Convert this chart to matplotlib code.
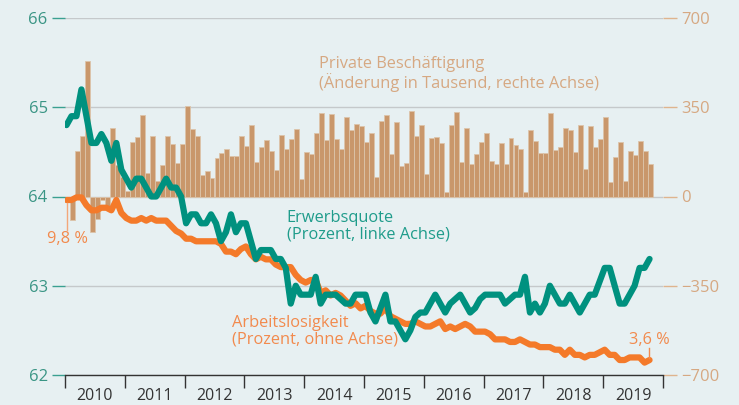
import numpy as np
import matplotlib
matplotlib.use("Agg")
import matplotlib.pyplot as plt

plt.rcParams['font.family'] = ['Open Sans', 'DejaVu Sans']

# Monatswerte Jan 2010 - Okt 2019
beschaeftigung = [
    -10, -92, 180, 236, 533, -138, -88, -15, -50, 270, 123, 76,
    21, 213, 232, 321, 94, 236, 60, 123, 236, 204, 132, 204,
    354, 263, 239, 84, 99, 73, 152, 171, 188, 158, 158, 236,
    197, 279, 136, 193, 223, 180, 103, 240, 188, 226, 266, 67,
    176, 168, 250, 328, 221, 324, 227, 187, 311, 259, 286, 276,
    213, 250, 76, 298, 318, 168, 291, 120, 132, 337, 236, 279,
    89, 230, 233, 209, 16, 279, 333, 134, 269, 129, 168, 214,
    250, 140, 127, 209, 127, 229, 203, 187, 16, 259, 218, 172,
    172, 328, 182, 196, 268, 259, 174, 279, 107, 275, 196, 226,
    311, 55, 155, 214, 62, 178, 164, 218, 180, 129,
]
erwerbsquote = [
    64.8, 64.9, 64.9, 65.2, 64.9, 64.6, 64.6, 64.7, 64.6, 64.4, 64.6, 64.3,
    64.2, 64.1, 64.2, 64.2, 64.1, 64.0, 64.0, 64.1, 64.2, 64.1, 64.1, 64.0,
    63.7, 63.8, 63.8, 63.7, 63.7, 63.8, 63.7, 63.5, 63.6, 63.8, 63.6, 63.7,
    63.7, 63.5, 63.3, 63.4, 63.4, 63.4, 63.3, 63.3, 63.2, 62.8, 63.0, 62.9,
    62.9, 62.9, 63.1, 62.8, 62.9, 62.9, 62.9, 62.85, 62.8, 62.8, 62.9, 62.9,
    62.9, 62.7, 62.6, 62.75, 62.9, 62.6, 62.6, 62.5, 62.4, 62.5, 62.65, 62.7,
    62.7, 62.8, 62.9, 62.8, 62.7, 62.8, 62.85, 62.9, 62.8, 62.7, 62.75, 62.85,
    62.9, 62.9, 62.9, 62.9, 62.8, 62.85, 62.9, 62.9, 63.1, 62.7, 62.8, 62.7,
    62.8, 63.0, 62.9, 62.8, 62.8, 62.9, 62.8, 62.7, 62.8, 62.9, 62.9, 63.05,
    63.2, 63.2, 63.0, 62.8, 62.8, 62.9, 63.0, 63.2, 63.2, 63.3,
]
arbeitslosigkeit = [
    9.8, 9.8, 9.9, 9.9, 9.6, 9.4, 9.4, 9.5, 9.5, 9.4, 9.8, 9.3,
    9.1, 9.0, 9.0, 9.1, 9.0, 9.1, 9.0, 9.0, 9.0, 8.8, 8.6, 8.5,
    8.3, 8.3, 8.2, 8.2, 8.2, 8.2, 8.2, 8.1, 7.8, 7.8, 7.7, 7.9,
    8.0, 7.7, 7.5, 7.6, 7.5, 7.5, 7.3, 7.2, 7.2, 7.2, 6.9, 6.7,
    6.6, 6.7, 6.7, 6.2, 6.3, 6.1, 6.2, 6.1, 5.9, 5.7, 5.8, 5.6,
    5.7, 5.5, 5.4, 5.4, 5.6, 5.3, 5.2, 5.1, 5.0, 5.0, 5.1, 5.0,
    4.9, 4.9, 5.0, 5.1, 4.8, 4.9, 4.8, 4.9, 5.0, 4.9, 4.7, 4.7,
    4.7, 4.6, 4.4, 4.4, 4.4, 4.3, 4.3, 4.4, 4.3, 4.2, 4.2, 4.1,
    4.1, 4.1, 4.0, 4.0, 3.8, 4.0, 3.8, 3.8, 3.7, 3.8, 3.8, 3.9,
    4.0, 3.8, 3.8, 3.6, 3.6, 3.7, 3.7, 3.7, 3.5, 3.6,
]
jahre = list(range(2010, 2020))
links_ticks = [62, 63, 64, 65, 66]
rechts_ticks = [-700, -350, 0, 350, 700]

# Farben
bg = '#e7f0f2'
teal = '#00917f'
orange = '#f47a2a'
bar_col = '#c9976b'
grid_col = '#c5c9cb'
tan_txt = '#d6a882'

n = len(erwerbsquote)
t_line = 2010 + (np.arange(n) + 0.3) / 12
t_bar = 2010 + (np.arange(len(beschaeftigung)) + 0.5) / 12

fig = plt.figure(figsize=(7.39, 4.05), dpi=100, facecolor=bg)
ax = fig.add_axes([65 / 739, 30 / 405, 598 / 739, 357 / 405])
ax2 = ax.twinx()
ax3 = ax.twinx()

# Reihenfolge: Balken hinten, dann Arbeitslosigkeit, dann Erwerbsquote
ax2.set_zorder(0)
ax3.set_zorder(1)
ax.set_zorder(2)
for a in (ax, ax2, ax3):
    a.patch.set_visible(False)
    for s in a.spines.values():
        s.set_visible(False)

# Balken (rechte Achse)
ax2.set_axisbelow(True)
ax2.bar(t_bar, beschaeftigung, width=1 / 12, color=bar_col,
        edgecolor='#dcc4aa', linewidth=0.6)
ax2.set_ylim(-700, 700)
ax2.set_yticks(rechts_ticks)
ax2.grid(axis='y', color=grid_col, linewidth=1)
ax2.tick_params(axis='y', length=10, width=1, color='#dfb48e', pad=3,
                labelsize=12, labelcolor=tan_txt)

# Arbeitslosigkeit (ohne Achse)
ax3.plot(t_line, arbeitslosigkeit, color=orange, lw=4.5,
         solid_joinstyle='round', solid_capstyle='round')
ax3.set_ylim(3.02, 16.85)
ax3.set_yticks([])

# Erwerbsquote (linke Achse)
ax.plot(t_line, erwerbsquote, color=teal, lw=4.5,
        solid_joinstyle='round', solid_capstyle='round')
ax.set_ylim(62, 66)
ax.set_xlim(2010, 2020)
ax.set_yticks(links_ticks)
ax.tick_params(axis='y', length=9.5, width=1, color='#3aa091', pad=3,
               labelsize=12, labelcolor='#3a9585')

ax.spines['bottom'].set_visible(True)
ax.spines['bottom'].set_color('#333333')
ax.spines['bottom'].set_linewidth(1)
ax.set_xticks(range(2010, 2021))
ax.set_xticklabels([])
ax.set_xticks([j + 0.5 for j in jahre], minor=True)
ax.set_xticklabels([str(j) for j in jahre], minor=True)
ax.tick_params(axis='x', which='major', length=9, width=1, color='#333333')
ax.tick_params(axis='x', which='minor', length=0, pad=9, labelsize=11.5,
               labelcolor='#333333')

# Beschriftungen
fs = 11.8
ax.text(2014.25, 65.57, 'Private Beschäftigung\n(Änderung in Tausend, rechte Achse)',
        color=tan_txt, fontsize=fs, va='top', ha='left', linespacing=1.05)
ax.text(2013.71, 63.85, 'Erwerbsquote\n(Prozent, linke Achse)',
        color='#1f9c8b', fontsize=fs, va='top', ha='left', linespacing=1.05)
ax.text(2012.79, 62.67, 'Arbeitslosigkeit\n(Prozent, ohne Achse)',
        color='#f28a4d', fontsize=fs, va='top', ha='left', linespacing=1.05)

ax.plot([2010.03, 2010.03], [63.93, 63.62], color='#f3a77a', lw=1, zorder=1)
ax.text(2010.05, 63.61, '9,8 %', color='#f28a4d', fontsize=fs,
        va='top', ha='center')
ax.plot([2019.76, 2019.76], [62.30, 62.19], color='#f28a4d', lw=1)
ax.text(2019.77, 62.48, '3,6 %', color='#f28a4d', fontsize=fs,
        va='top', ha='center')

fig.savefig('out.png', dpi=100, facecolor=bg)
